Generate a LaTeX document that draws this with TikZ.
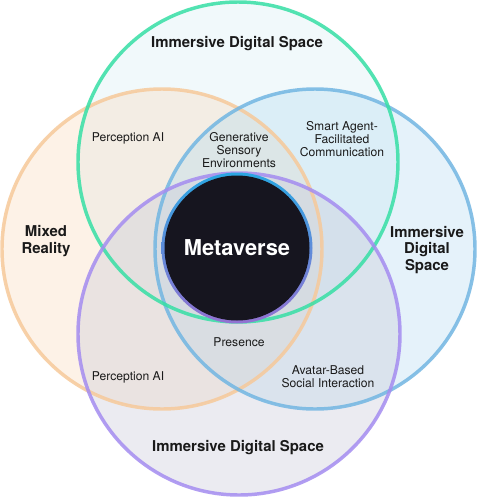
\documentclass[tikz,border=0pt]{standalone}
\usepackage{fontspec}
\setmainfont{TeX Gyre Heros}
\definecolor{gstroke}{HTML}{36DFA5}
\definecolor{ostroke}{HTML}{F6C99A}
\definecolor{bstroke}{HTML}{72B6E2}
\definecolor{pstroke}{HTML}{A48CF0}
\definecolor{gfill}{HTML}{C8EBF0}
\definecolor{ofill}{HTML}{FAD4B0}
\definecolor{bfill}{HTML}{AAD7F0}
\definecolor{pfill}{HTML}{C8C8D7}
\definecolor{core}{HTML}{16151F}
\definecolor{ringtop}{HTML}{2AA6E2}
\definecolor{ringbot}{HTML}{9272D2}
\definecolor{ink}{HTML}{1A1A1A}
\tikzset{
  ring/.style={line width=2.6pt, draw opacity=0.85},
  title/.style={font=\fontsize{11.2}{12.4}\selectfont\bfseries, text=ink, align=center, inner sep=0pt},
  small/.style={font=\fontsize{9.1}{9.8}\selectfont, text=ink, align=center, inner sep=0pt},
  big/.style={font=\fontsize{16.4}{18}\selectfont\bfseries, text=white, inner sep=0pt}
}
\begin{document}
\begin{tikzpicture}[x=0.75pt,y=-0.75pt]
\useasboundingbox (0,0) rectangle (478,497);
\fill[white] (0,0) rectangle (478,497);
% fills
\fill[gfill, fill opacity=0.25] (238,162) circle (160);
\fill[ofill, fill opacity=0.3] (162,249) circle (160);
\fill[bfill, fill opacity=0.3] (315,249) circle (160);
\fill[pfill, fill opacity=0.35] (239,334) circle (161);
% outlines
\draw[ring, ostroke] (162,249) circle (160);
\draw[ring, bstroke] (315,249) circle (160);
\draw[ring, gstroke] (238,162) circle (160);
\draw[ring, pstroke] (239,334) circle (161);
% core
\shade[top color=ringtop, bottom color=ringbot] (237,248) circle (75.5);
\fill[core] (237,248) circle (72.5);
\node[big] (meta) at (237,248) {Metaverse};
% labels
\node[title] (top) at (237,44) {Immersive Digital Space};
\node[title] (left) at (46,241) {Mixed\\Reality};
\node[title] (right) at (427,250) {Immersive\\Digital\\Space};
\node[title] (bottom) at (238,448) {Immersive Digital Space};
\node[small] (pa1) at (128,138) {Perception AI};
\node[small] (gen) at (239,150) {Generative\\Sensory\\Environments};
\node[small] (smart) at (342,139) {Smart Agent-\\Facilitated\\Communication};
\node[small] (pres) at (239,342) {Presence};
\node[small] (pa2) at (128,377) {Perception AI};
\node[small] (avatar) at (328,377) {Avatar-Based\\Social Interaction};
\end{tikzpicture}
\end{document}
